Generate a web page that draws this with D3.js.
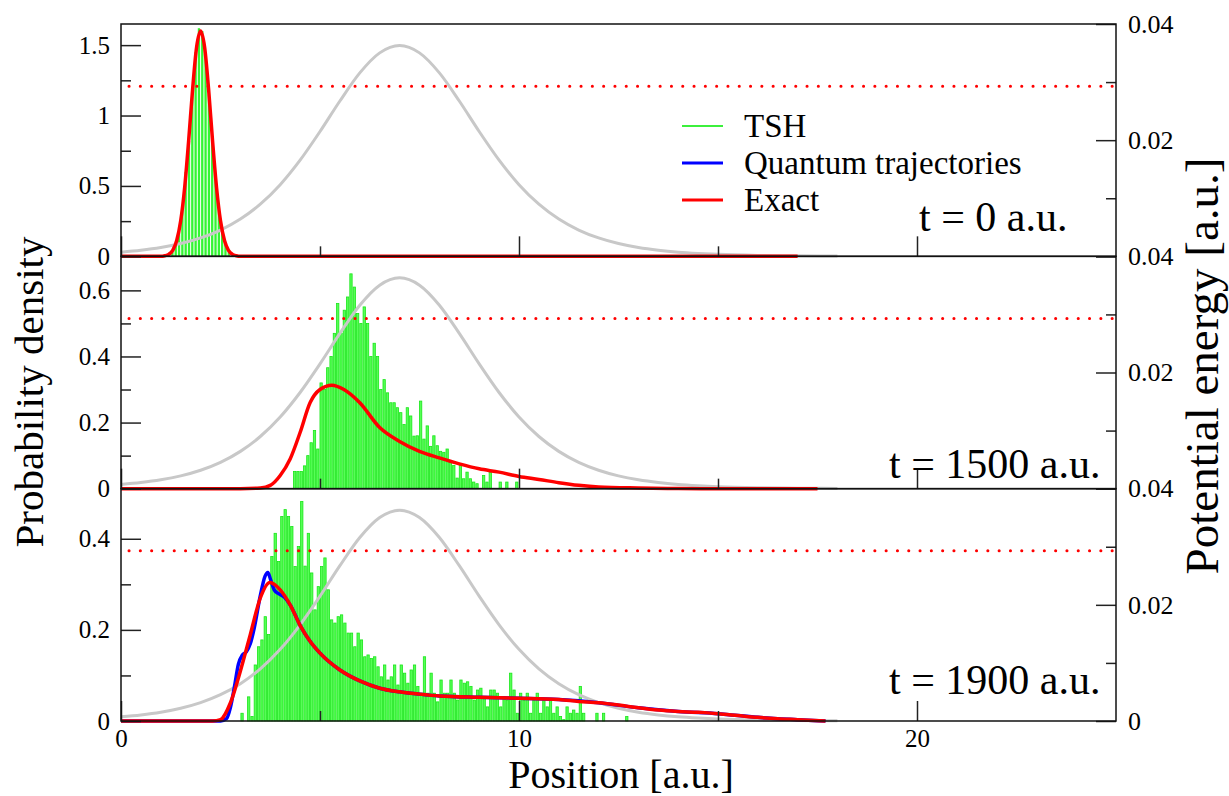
<!DOCTYPE html>
<html>
<head>
<meta charset="utf-8">
<script src="https://cdn.jsdelivr.net/npm/d3@7"></script>
<style>body { margin: 0; background: #fff; }</style>
</head>
<body>
<script>
// ---- data ----
var xTickValues = [0, 10, 20];
var xMinorValues = [5, 15];
var binWidth = 1 / 12;
var energyLevel = 0.0293;

// barrier potential (right axis)
var potentialX = [0, 0.5, 1, 1.5, 2, 2.5, 3, 3.5, 4, 4.5, 5, 5.5, 6, 6.5, 7, 7.5, 8, 8.5, 9, 9.5, 10,
                  10.5, 11, 11.5, 12, 12.5, 13, 13.5, 14, 14.5, 15, 16, 17, 18];
var potentialV = [0.00072, 0.00105, 0.00152, 0.0022, 0.00317, 0.00453, 0.00642, 0.00898, 0.01234, 0.01656,
                  0.02149, 0.02674, 0.03158, 0.03503, 0.0363, 0.03503, 0.03158, 0.02674, 0.02149, 0.01656,
                  0.01234, 0.00898, 0.00642, 0.00453, 0.00317, 0.0022, 0.00152, 0.00105, 0.00072, 0.0005,
                  0.00034, 0.00016, 0.00008, 0.00004];

// t = 0
var hist1Start = 1.25;
var hist1 = [0.03, 0.08, 0.17, 0.33, 0.60, 0.82, 1.17, 1.45, 1.62, 1.60, 1.42, 1.15, 0.84, 0.56, 0.35, 0.17, 0.09, 0.03];
var exact1X = [0, 1.0, 1.1, 1.2, 1.3, 1.4, 1.5, 1.6, 1.7, 1.8, 1.9, 2.0, 2.1, 2.2, 2.3, 2.4, 2.5, 2.6, 2.7, 2.8, 2.9, 3.0, 17];
var exact1Y = [0, 0, 0.004, 0.014, 0.043, 0.112, 0.252, 0.49, 0.822, 1.19, 1.486, 1.6, 1.486, 1.19, 0.822, 0.49, 0.252, 0.112, 0.043, 0.014, 0.004, 0, 0];

// t = 1500
var hist2Start = 4.32;
var hist2 = [0.052, 0.052, 0.052, 0.069, 0.10, 0.139, 0.176, 0.12, 0.32, 0.30,
             0.366, 0.40, 0.47, 0.56, 0.47, 0.54, 0.58, 0.65, 0.61, 0.53,
             0.50, 0.55, 0.50, 0.40, 0.44, 0.40, 0.30, 0.33, 0.29, 0.26,
             0.26, 0.245, 0.23, 0.194, 0.245, 0.22, 0.159, 0.16, 0.265, 0.15,
             0.19, 0.128, 0.16, 0.13, 0.113, 0.11, 0.12, 0.083, 0.07, 0.032,
             0.07, 0.03, 0.05, 0.03, 0.02, 0.015, 0, 0.04, 0.02, 0.05,
             0, 0, 0.02, 0, 0.02, 0, 0, 0.02];
var exact2X = [0, 3.0, 3.5, 3.75, 4.0, 4.25, 4.5, 4.75, 5.0, 5.3, 5.6, 6.0, 6.5, 7.0, 7.5, 8.0, 8.5, 9.0, 9.5,
               10.0, 10.5, 11.0, 11.5, 12.0, 13.0, 14.0, 15.0, 17.5];
var exact2Y = [0, 0, 0.002, 0.01, 0.04, 0.09, 0.17, 0.26, 0.30, 0.313, 0.30, 0.26, 0.185, 0.143, 0.113, 0.093, 0.075, 0.06, 0.05,
               0.037, 0.028, 0.018, 0.01, 0.005, 0.002, 0.0005, 0, 0];

// t = 1900
var hist3Start = 3.0;
var hist3 = [0.017, 0, 0.053, 0.01, 0.123, 0.163, 0.178, 0.229, 0.19, 0.361,
             0.412, 0.35, 0.449, 0.464, 0.449, 0.427, 0.339, 0.383, 0.482, 0.34,
             0.412, 0.325, 0.244, 0.295, 0.339, 0.358, 0.288, 0.222, 0.215, 0.229,
             0.233, 0.215, 0.193, 0.193, 0.163, 0.193, 0.178, 0.141, 0.145, 0.137,
             0.141, 0.119, 0.097, 0.123, 0.09, 0.097, 0.123, 0.079, 0.123, 0.105,
             0.083, 0.112, 0.123, 0.076, 0.061, 0.141, 0.061, 0.105, 0.061, 0.042,
             0.09, 0.061, 0.061, 0.09, 0.061, 0.046, 0.09, 0.083, 0.086, 0.076,
             0.046, 0.068, 0.072, 0.053, 0.031, 0.068, 0.068, 0.061, 0.031, 0.053,
             0.046, 0.105, 0.068, 0.017, 0.061, 0.046, 0.061, 0.017, 0.046, 0.061,
             0.017, 0.046, 0.031, 0.046, 0.017, 0.031, 0.01, 0.003, 0.031, 0.017,
             0.024, 0.017, 0.076, 0.017, 0, 0, 0, 0.017, 0, 0.017,
             0, 0, 0, 0, 0, 0, 0.01];
var exact3X = [0, 2.3, 2.5, 2.75, 3.0, 3.25, 3.5, 3.74, 4.0, 4.25, 4.5, 4.75, 5.0, 5.5, 6.0, 6.5, 7.0, 7.5, 8.0,
               9.0, 10.0, 11.0, 11.5, 12.0, 12.5, 13.0, 13.5, 14.0, 14.5, 15.0, 15.5, 16.0, 16.5, 17.0, 17.7];
var exact3Y = [0, 0, 0.003, 0.04, 0.11, 0.19, 0.27, 0.304, 0.288, 0.255, 0.21, 0.175, 0.149, 0.112, 0.088, 0.072, 0.064, 0.059, 0.055,
               0.052, 0.05, 0.047, 0.043, 0.04, 0.035, 0.029, 0.024, 0.021, 0.019, 0.016, 0.012, 0.008, 0.005, 0.003, 0];
var quantum3X = [0, 2.5, 2.65, 2.75, 2.85, 2.95, 3.05, 3.15, 3.25, 3.35, 3.5, 3.62, 3.69, 3.76, 3.85, 3.95, 4.1, 4.25,
                 4.5, 4.75, 5.0, 5.5, 6.0, 6.5, 7.0, 7.5, 8.0, 9.0, 10.0, 11.0, 12.0, 13.0, 14.0, 15.0, 16.0, 17.0, 17.7];
var quantum3Y = [0, 0, 0.005, 0.03, 0.075, 0.125, 0.145, 0.152, 0.17, 0.205, 0.275, 0.318, 0.326, 0.31, 0.288, 0.28, 0.272, 0.255,
                 0.21, 0.175, 0.149, 0.112, 0.088, 0.072, 0.064, 0.059, 0.055, 0.052, 0.05, 0.047, 0.04, 0.029, 0.021, 0.016, 0.008, 0.003, 0];

var timeLabels = ["t = 0 a.u.", "t = 1500 a.u.", "t = 1900 a.u."];
var legendNames = ["TSH", "Quantum trajectories", "Exact"];

// ---- layout ----
var margin = {top: 24, right: 113, bottom: 75, left: 121},
    width = 1229 - margin.left - margin.right,
    height = 796 - margin.top - margin.bottom,
    panelH = height / 3;

var serif = "'Liberation Serif', 'Times New Roman', serif";
var green = "#3cf03c", blue = "#0000ff", red = "#ff0000", gray = "#c8c8c8";

function zip(xs, ys) { return xs.map(function(v, i) { return [v, ys[i]]; }); }

var panels = [
  {ymax: 1.65, major: [0, 0.5, 1, 1.5], minor: [0.25, 0.75, 1.25], rightLabels: [0.02, 0.04],
   histStart: hist1Start, hist: hist1, exact: zip(exact1X, exact1Y), quantum: null, label: timeLabels[0], lx: 919, ly: 207},
  {ymax: 0.703, major: [0, 0.2, 0.4, 0.6], minor: [0.1, 0.3, 0.5], rightLabels: [0.02, 0.04],
   histStart: hist2Start, hist: hist2, exact: zip(exact2X, exact2Y), quantum: null, label: timeLabels[1], lx: 889, ly: 222},
  {ymax: 0.51, major: [0, 0.2, 0.4], minor: [0.1, 0.3], rightLabels: [0, 0.02, 0.04],
   histStart: hist3Start, hist: hist3, exact: zip(exact3X, exact3Y), quantum: zip(quantum3X, quantum3Y), label: timeLabels[2], lx: 889, ly: 205}
];

// set the ranges
var x = d3.scaleLinear().domain([0, 25]).range([0, width]);
var yE = d3.scaleLinear().domain([0, 0.04]).range([panelH, 0]);

var root = d3.select("body").append("svg")
    .attr("width", 1229)
    .attr("height", 796);
var svg = root.append("g")
    .attr("transform", "translate(" + margin.left + "," + margin.top + ")");

function styleAxis(g, size) {
  g.attr("font-family", serif).attr("font-size", size);
  g.select(".domain").remove();
  g.selectAll(".tick line").attr("stroke", "#222").attr("stroke-width", 1.5);
  g.selectAll(".tick text")
      .attr("fill", "#000")
      .attr("font-family", serif)
      .attr("font-size", size);
}

panels.forEach(function(p, k) {
  var g = svg.append("g").attr("transform", "translate(0," + (k * panelH) + ")");
  var y = d3.scaleLinear().domain([0, p.ymax]).range([panelH, 0]);
  var bw = x(binWidth) - x(0);

  // TSH histogram
  g.selectAll("rect.bar")
      .data(p.hist.map(function(v, i) { return {x0: p.histStart + i * binWidth, v: v}; })
                  .filter(function(d) { return d.v > 0; }))
    .enter().append("rect")
      .attr("class", "bar")
      .attr("x", function(d) { return x(d.x0) + 0.5; })
      .attr("width", bw - 1)
      .attr("y", function(d) { return y(d.v); })
      .attr("height", function(d) { return panelH - y(d.v); })
      .attr("fill", k === 0 ? "#33f533" : "#55ff55")
      .attr("stroke", k === 0 ? "none" : "#19e619")
      .attr("stroke-width", 0.8);

  // potential
  g.append("path")
      .datum(zip(potentialX, potentialV))
      .attr("fill", "none")
      .attr("stroke", gray)
      .attr("stroke-width", 3)
      .attr("d", d3.line().curve(d3.curveMonotoneX)
          .x(function(d) { return x(d[0]); })
          .y(function(d) { return yE(d[1]); }));

  // energy level
  g.append("line")
      .attr("x1", x(0)).attr("x2", x(25))
      .attr("y1", yE(energyLevel)).attr("y2", yE(energyLevel))
      .attr("stroke", red)
      .attr("stroke-width", 3)
      .attr("stroke-linecap", "round")
      .attr("stroke-dasharray", "0.1,11.2")
      .attr("stroke-dashoffset", -8);

  var curve = d3.line().curve(d3.curveMonotoneX)
      .x(function(d) { return x(d[0]); })
      .y(function(d) { return y(d[1]); });

  if (p.quantum) {
    g.append("path").datum(p.quantum)
        .attr("fill", "none").attr("stroke", blue).attr("stroke-width", 3.5)
        .attr("d", curve);
  }
  g.append("path").datum(p.exact)
      .attr("fill", "none").attr("stroke", red).attr("stroke-width", 3.5)
      .attr("d", curve);

  // x ticks pointing up
  g.append("g")
      .attr("transform", "translate(0," + panelH + ")")
      .call(d3.axisBottom(x).tickValues(xTickValues).tickSize(-20).tickSizeOuter(0)
            .tickPadding(8).tickFormat(k === 2 ? d3.format("d") : ""))
      .call(styleAxis, 25);
  g.append("g")
      .attr("transform", "translate(0," + panelH + ")")
      .call(d3.axisBottom(x).tickValues(xMinorValues).tickSize(-10).tickSizeOuter(0).tickFormat(""))
      .call(styleAxis, 25);

  // left axis
  g.append("g")
      .call(d3.axisLeft(y).tickValues(p.major).tickSize(-20).tickSizeOuter(0).tickPadding(11)
            .tickFormat(function(d) { return String(d); }))
      .call(styleAxis, 25);
  g.append("g")
      .call(d3.axisLeft(y).tickValues(p.minor).tickSize(-10).tickSizeOuter(0).tickFormat(""))
      .call(styleAxis, 25);

  // right axis
  g.append("g")
      .attr("transform", "translate(" + width + ",0)")
      .call(d3.axisRight(yE).tickValues([0, 0.02, 0.04]).tickSize(-20).tickSizeOuter(0).tickPadding(12)
            .tickFormat(function(d) { return p.rightLabels.indexOf(d) >= 0 ? (d === 0 ? "0" : d3.format(".2f")(d)) : ""; }))
      .call(styleAxis, 26);
  g.append("g")
      .attr("transform", "translate(" + width + ",0)")
      .call(d3.axisRight(yE).tickValues([0.01, 0.03]).tickSize(-10).tickSizeOuter(0).tickFormat(""))
      .call(styleAxis, 26);

  // frame
  g.append("rect")
      .attr("width", width).attr("height", panelH)
      .attr("fill", "none").attr("stroke", "#111").attr("stroke-width", 1.5);

  // time label
  g.append("text")
      .attr("x", p.lx - margin.left)
      .attr("y", p.ly)
      .attr("font-family", serif)
      .attr("font-size", 42)
      .text(p.label);
});

// legend
var legendColors = [green, blue, red];
var legend = root.append("g");
legendNames.forEach(function(name, i) {
  var ly = 126 + i * 37;
  legend.append("line")
      .attr("x1", 682).attr("x2", 723).attr("y1", ly).attr("y2", ly)
      .attr("stroke", legendColors[i]).attr("stroke-width", i === 0 ? 2 : 3);
  legend.append("text")
      .attr("x", 744).attr("y", ly + 11)
      .attr("font-family", serif)
      .attr("font-size", 33)
      .text(name);
});

// axis titles
root.append("text")
    .attr("transform", "translate(43,392) rotate(-90)")
    .attr("text-anchor", "middle")
    .attr("font-family", serif)
    .attr("font-size", 41)
    .text("Probability density");

root.append("text")
    .attr("transform", "translate(1218,366) rotate(-90)")
    .attr("text-anchor", "middle")
    .attr("font-family", serif)
    .attr("font-size", 47)
    .text("Potential energy [a.u.]");

root.append("text")
    .attr("x", 621).attr("y", 788)
    .attr("text-anchor", "middle")
    .attr("font-family", serif)
    .attr("font-size", 40)
    .text("Position [a.u.]");
</script>
</body>
</html>
